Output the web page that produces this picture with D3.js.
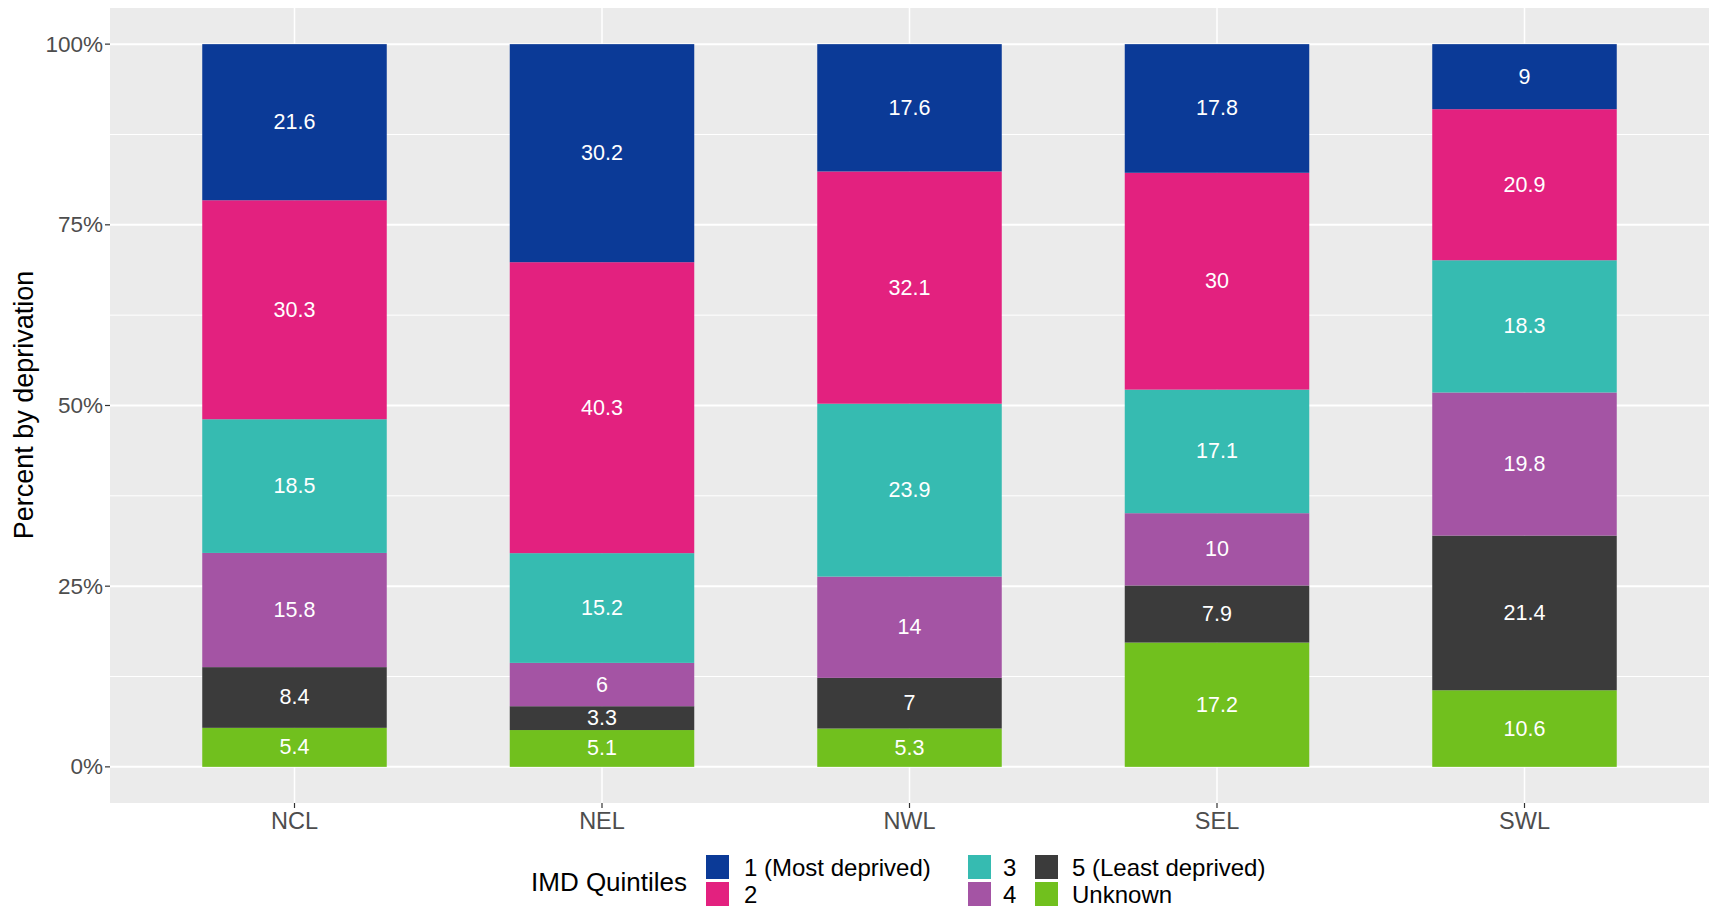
<!DOCTYPE html>
<html><head><meta charset="utf-8">
<script src="https://cdn.jsdelivr.net/npm/d3@7"></script>
<style>
html,body{margin:0;padding:0;background:#fff;}
text{font-family:"Liberation Sans",Arial,sans-serif;}
</style></head>
<body>
<svg id="chart" width="1709" height="909"></svg>
<script>
const regions = ["NCL","NEL","NWL","SEL","SWL"];
const quintiles = ["1 (Most deprived)","2","3","4","5 (Least deprived)","Unknown"];
const q1 = [21.6, 30.2, 17.6, 17.8, 9];
const q2 = [30.3, 40.3, 32.1, 30, 20.9];
const q3 = [18.5, 15.2, 23.9, 17.1, 18.3];
const q4 = [15.8, 6, 14, 10, 19.8];
const q5 = [8.4, 3.3, 7, 7.9, 21.4];
const qU = [5.4, 5.1, 5.3, 17.2, 10.6];
const colors = ["#0b3a97","#e3217f","#36bbb1","#a454a4","#3b3b3b","#71c01e"];
const yTicks = [0, 0.25, 0.5, 0.75, 1];
const yMinor = [0.125, 0.375, 0.625, 0.875];
const yTickLabels = ["0%","25%","50%","75%","100%"];

const series = [q1,q2,q3,q4,q5,qU];
const svg = d3.select("#chart");
const panel = {left:110, right:1709, top:8, bottom:803};

const x = d3.scaleBand().domain(regions).range([panel.left, panel.right]).paddingInner(0.4).paddingOuter(0.3);
const y = d3.scaleLinear().domain([-0.05, 1.05]).range([panel.bottom, panel.top]);

svg.append("rect").attr("x",panel.left).attr("y",panel.top)
  .attr("width",panel.right-panel.left).attr("height",panel.bottom-panel.top).attr("fill","#ebebeb");

const g = svg.append("g");
g.selectAll("line.minor").data(yMinor).enter().append("line")
  .attr("x1",panel.left).attr("x2",panel.right).attr("y1",d=>y(d)).attr("y2",d=>y(d))
  .attr("stroke","#fff").attr("stroke-width",1);
g.selectAll("line.major").data(yTicks).enter().append("line")
  .attr("x1",panel.left).attr("x2",panel.right).attr("y1",d=>y(d)).attr("y2",d=>y(d))
  .attr("stroke","#fff").attr("stroke-width",2);
g.selectAll("line.vmajor").data(regions).enter().append("line")
  .attr("x1",d=>x(d)+x.bandwidth()/2).attr("x2",d=>x(d)+x.bandwidth()/2)
  .attr("y1",panel.top).attr("y2",panel.bottom)
  .attr("stroke","#fff").attr("stroke-width",1.5);

const rows = regions.map((r,i)=>{
  const o={region:r};
  quintiles.forEach((q,k)=>o[q]=series[k][i]);
  return o;
});
const stackKeys = quintiles.slice().reverse();
const stack = d3.stack().keys(stackKeys).offset(d3.stackOffsetExpand)(rows);

const layers = svg.append("g").selectAll("g").data(stack).enter().append("g")
  .attr("fill",d=>colors[quintiles.indexOf(d.key)]);
layers.selectAll("rect").data(d=>d).enter().append("rect")
  .attr("x",d=>x(d.data.region)).attr("width",x.bandwidth())
  .attr("y",d=>y(d[1])).attr("height",d=>y(d[0])-y(d[1]));

const lbl = svg.append("g");
stack.forEach(layer=>{
  layer.forEach(d=>{
    lbl.append("text")
      .attr("x",x(d.data.region)+x.bandwidth()/2)
      .attr("y",y((d[0]+d[1])/2))
      .attr("text-anchor","middle").attr("dominant-baseline","central")
      .attr("fill","#fff").attr("font-size",21.5)
      .text(d.data[layer.key]);
  });
});

const yAxis = svg.append("g");
yTicks.forEach((t,i)=>{
  yAxis.append("line").attr("x1",panel.left-5).attr("x2",panel.left).attr("y1",y(t)).attr("y2",y(t))
    .attr("stroke","#333").attr("stroke-width",1.2);
  yAxis.append("text").attr("x",panel.left-7).attr("y",y(t)).attr("text-anchor","end")
    .attr("dominant-baseline","central").attr("fill","#4d4d4d").attr("font-size",22.5).text(yTickLabels[i]);
});
const xAxis = svg.append("g");
regions.forEach(r=>{
  const cx = x(r)+x.bandwidth()/2;
  xAxis.append("line").attr("x1",cx).attr("x2",cx).attr("y1",panel.bottom).attr("y2",panel.bottom+5)
    .attr("stroke","#333").attr("stroke-width",1.2);
  xAxis.append("text").attr("x",cx).attr("y",821).attr("text-anchor","middle")
    .attr("dominant-baseline","central").attr("fill","#4d4d4d").attr("font-size",23.5).text(r);
});
svg.append("text").attr("transform","translate(24,405) rotate(-90)").attr("text-anchor","middle")
  .attr("dominant-baseline","central").attr("fill","#000").attr("font-size",27).text("Percent by deprivation");

const leg = svg.append("g");
leg.append("text").attr("x",531).attr("y",882).attr("dominant-baseline","central")
  .attr("font-size",26).attr("fill","#000").text("IMD Quintiles");
const colX = [706, 968, 1035];
const labX = [744, 1003, 1072];
const rowY = [867, 894];
quintiles.forEach((q,k)=>{
  const c = Math.floor(k/2), r = k%2;
  leg.append("rect").attr("x",colX[c]).attr("y",rowY[r]-12).attr("width",23).attr("height",24).attr("fill",colors[k]);
  leg.append("text").attr("x",labX[c]).attr("y",rowY[r]).attr("dominant-baseline","central")
    .attr("font-size",24).attr("fill","#000").text(q);
});
</script>
</body></html>
